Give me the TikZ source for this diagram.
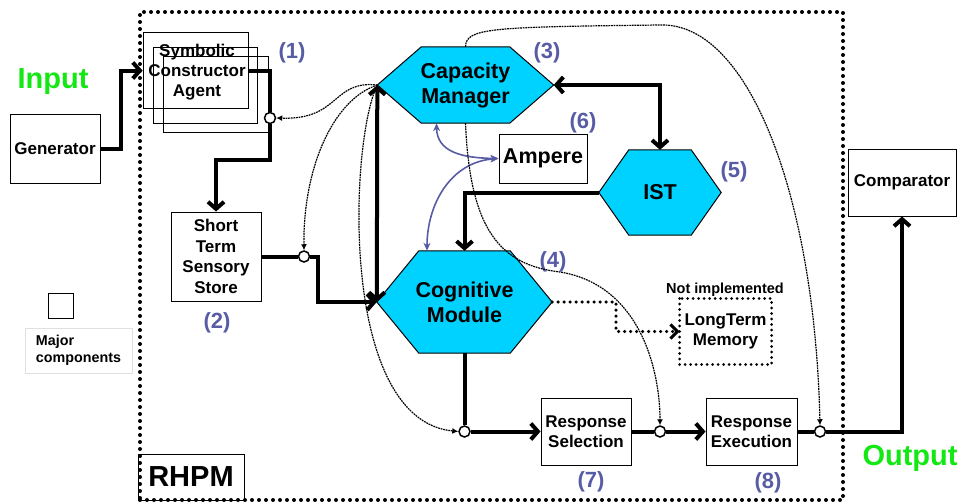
\documentclass[tikz,border=0pt]{standalone}
\usepackage{fontspec}
\setmainfont{Liberation Sans}
\usetikzlibrary{arrows.meta,calc,backgrounds}
\definecolor{hexcyan}{RGB}{0,210,255}
\definecolor{lblblue}{RGB}{88,92,165}
\definecolor{ingreen}{RGB}{20,232,20}
\newcommand\myfs[2]{\fontsize{#1}{#2}\selectfont}
\begin{document}
\begin{tikzpicture}[x=1pt,y=-1pt,
 box/.style={draw, line width=1pt, align=center, inner sep=0pt, font=\bfseries\myfs{17}{20.5}},
 hexnode/.style={align=center, inner sep=0pt, font=\bfseries\myfs{21.5}{25}},
 hexfill/.style={fill=hexcyan, draw, line width=1pt, line join=miter},
 thk/.style={line width=4pt, -{Straight Barb[length=7pt,width=16pt]}},
 thkline/.style={line width=4pt},
 dotc/.style={circle, draw, line width=1.5pt, fill=white, minimum size=11pt, inner sep=0pt},
 ctl/.style={line width=1.2pt, dash pattern=on 1.8pt off 0.8pt, -{Latex[length=6pt,width=6pt]}},
 blu/.style={draw=lblblue, line width=1.6pt, {Stealth[length=8pt,width=7pt]}-{Stealth[length=8pt,width=7pt]}},
 lbl/.style={text=lblblue, font=\bfseries\myfs{22}{22}, inner sep=0pt},
 bigdots/.style={line width=4pt, dash pattern=on 0pt off 7pt, line cap=round},
 smalldots/.style={line width=3.5pt, dash pattern=on 0pt off 6pt, line cap=round},
 green/.style={text=ingreen, font=\bfseries\myfs{29}{29}, inner sep=0pt}]
\useasboundingbox (0,0) rectangle (960,503);

% frame
\node[bigdots, draw, minimum width=703, minimum height=488, inner sep=0] (frame) at (491.5,256) {};
\node[draw, line width=1pt, minimum width=106, minimum height=46, inner sep=0, font=\bfseries\myfs{29}{29}] (rhpm) at (191,477) {RHPM};

% green labels
\node[green] (input) at (53,82) {Input};
\node[green] (output) at (910,458) {Output};

% boxes
\node[box, minimum width=90, minimum height=69] (gen) at (55,148.5) {Generator};
\node[draw, line width=1pt, minimum width=105, minimum height=75, inner sep=0] (r1) at (195.5,70.5) {};
\node[draw, line width=1pt, minimum width=104, minimum height=75, inner sep=0] (r2) at (205,85.5) {};
\node[draw, line width=1pt, minimum width=105, minimum height=75, inner sep=0] (r3) at (215.5,94.5) {};
\node[align=center, inner sep=0, font=\bfseries\myfs{17}{20}] (sca) at (197,72) {Symbolic\\Constructor\\Agent};
\node[box, minimum width=90, minimum height=89] (stts) at (216,256.5) {Short\\Term\\Sensory\\Store};
\node[box, minimum width=88, minimum height=49, font=\bfseries\myfs{21.5}{25}] (amp) at (543,158.5) {Ampere};
\node[box, minimum width=108, minimum height=67] (comp) at (902,182.5) {Comparator};
\node[box, minimum width=90, minimum height=67] (rs) at (586,431.5) {Response\\Selection};
\node[box, minimum width=91, minimum height=67] (re) at (751.5,431.5) {Response\\Execution};
\node[box, draw=none, minimum width=91, minimum height=65] (ltm) at (725.5,331.5) {LongTerm\\Memory};
\draw[line width=3pt, dash pattern=on 0pt off 5.5pt, line cap=round] (ltm.north west) rectangle (ltm.south east);
\node[inner sep=0, font=\bfseries\myfs{14.5}{15}] (notimpl) at (725,290) {Not implemented};

% hexagons
\node[hexnode, minimum width=176, minimum height=76] (cm) at (465.5,85) {Capacity\\Manager};
\node[hexnode, minimum width=175, minimum height=102] (cog) at (464.5,302) {Cognitive\\Module};
\node[hexnode, minimum width=122, minimum height=85] (ist) at (660,192.5) {IST};
\begin{scope}[on background layer]
\draw[hexfill] (cm.west) -- ($(cm.north west)+(44,0)$) -- ($(cm.north east)+(-44,0)$) -- (cm.east) -- ($(cm.south east)+(-44,0)$) -- ($(cm.south west)+(44,0)$) -- cycle;
\draw[hexfill] (cog.west) -- ($(cog.north west)+(42,0)$) -- ($(cog.north east)+(-42,0)$) -- (cog.east) -- ($(cog.south east)+(-42,0)$) -- ($(cog.south west)+(42,0)$) -- cycle;
\draw[hexfill] (ist.west) -- ($(ist.north west)+(30,0)$) -- ($(ist.north east)+(-30,0)$) -- (ist.east) -- ($(ist.south east)+(-30,0)$) -- ($(ist.south west)+(30,0)$) -- cycle;
\end{scope}

% small junction circles
\node[dotc] (c1) at (270,118) {};
\node[dotc] (c2) at (304,256.5) {};
\node[dotc] (c3) at (464.5,431.5) {};
\node[dotc] (c4) at (660,431.5) {};
\node[dotc] (c5) at (820,431.5) {};

% numbers
\node[lbl] (l1) at (292,53) {(1)};
\node[lbl] (l2) at (217,323) {(2)};
\node[lbl] (l3) at (547,53) {(3)};
\node[lbl] (l4) at (553,262) {(4)};
\node[lbl] (l5) at (734,172) {(5)};
\node[lbl] (l6) at (583,123) {(6)};
\node[lbl] (l7) at (591,482) {(7)};
\node[lbl] (l8) at (768,483) {(8)};

% legend
\node[draw, line width=1pt, minimum size=25, inner sep=0] (legsq) at (60.5,306) {};
\node[draw=black!12, line width=0.8pt, minimum width=107, minimum height=45, inner sep=0, align=left, font=\bfseries\myfs{14.3}{17}] (legtxt) at (78.5,350.5) {Major\\components};

% thick connectors
\draw[thk] (gen.east) -- ++(20,0) |- (r1.west);
\draw[thkline] (r1.east) -| (c1.north);
\draw[thk] (c1.south) -- (270,160) -| (stts.north);
\draw[thkline] (stts.east) -- (c2.west);
\draw[thk] (c2.east) -- (318,256.5) |- (cog.west);
\draw[thk, {Straight Barb[length=7pt,width=16pt]}-{Straight Barb[length=7pt,width=16pt]}] (cm.west) -- (cog.west);
\draw[thk, {Straight Barb[length=7pt,width=16pt]}-{Straight Barb[length=7pt,width=16pt]}] (cm.east) -| (ist.north);
\draw[thk] (ist.west) -| (cog.north);
\draw[thkline] (cog.south) -- (c3.north);
\draw[thk] (c3.east) -- (rs.west);
\draw[thkline] (rs.east) -- (c4.west);
\draw[thk] (c4.east) -- (re.west);
\draw[thkline] (re.east) -- (c5.west);
\draw[thk] (c5.east) -| (comp.south);

% dotted link to long term memory
\draw[smalldots, -{Straight Barb[length=7pt,width=14pt,line width=3pt]}] (cog.east) -- (616,302) |- (ltm.west);

% blue links
\draw[blu] ($(cm.south)+(-29,0)$) .. controls (437,152) and (462,158) .. (amp.west);
\draw[blu] (amp.west) .. controls (450,162) and (427,205) .. ($(cog.north)+(-37.5,0)$);

% thin control curves
\draw[ctl] (cm.west) .. controls (332,80) and (340,120) .. (c1.east);
\draw[ctl] (cm.west) .. controls (332,100) and (303,170) .. (c2.north);
\draw[ctl] (cm.west) .. controls (350,140) and (338,420) .. (c3.west);
\draw[ctl] (cm.north) .. controls (466,28) and (490,27) .. (660,25) .. controls (750,22) and (815,200) .. (c5.north);
\draw[ctl] (cm.south) .. controls (470,230) and (500,265) .. (560,272) .. controls (640,285) and (660,370) .. (c4.north);
\end{tikzpicture}
\end{document}
